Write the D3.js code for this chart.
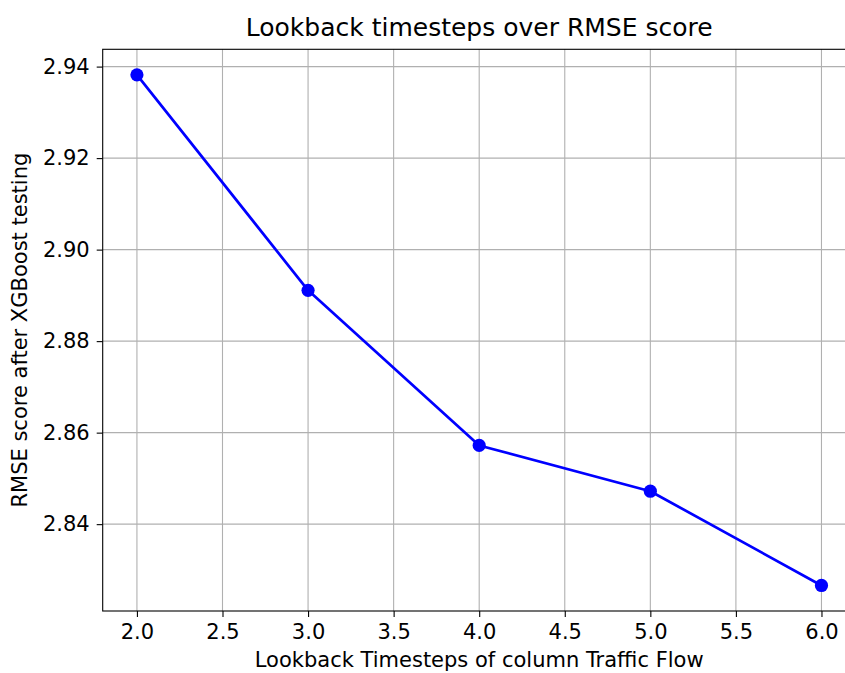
<!DOCTYPE html>
<html>
<head>
<meta charset="utf-8">
<script src="https://cdn.jsdelivr.net/npm/d3@7"></script>
<style>
  html, body { margin: 0; padding: 0; background: #fff; }
  svg { display: block; }
  text { font-family: "DejaVu Sans", sans-serif; fill: #000; }
</style>
</head>
<body>
<svg id="chart" width="845" height="673"></svg>
<script>
const lookback = [2, 3, 4, 5, 6];
const rmse = [2.9382, 2.8911, 2.8572, 2.8472, 2.8266];
const xTicks = [2.0, 2.5, 3.0, 3.5, 4.0, 4.5, 5.0, 5.5, 6.0];
const yTicks = [2.84, 2.86, 2.88, 2.90, 2.92, 2.94];
const titleText = "Lookback timesteps over RMSE score";
const xLabelText = "Lookback Timesteps of column Traffic Flow";
const yLabelText = "RMSE score after XGBoost testing";

const svg = d3.select("#chart");
const L = 102.7, R = 855.7, T = 49.3, B = 611;
const FS = 21;

const xr = d3.extent(lookback), xm = (xr[1] - xr[0]) * 0.05;
const yr = d3.extent(rmse), ym = (yr[1] - yr[0]) * 0.05;
const x = d3.scaleLinear().domain([xr[0] - xm, xr[1] + xm]).range([L, R]);
const y = d3.scaleLinear().domain([yr[0] - ym, yr[1] + ym]).range([B, T]);

// grid
const g = svg.append("g");
g.selectAll(".gx").data(xTicks).enter().append("line")
  .attr("x1", d => x(d)).attr("x2", d => x(d)).attr("y1", T).attr("y2", B)
  .attr("stroke", "#b0b0b0").attr("stroke-width", 1.1);
g.selectAll(".gy").data(yTicks).enter().append("line")
  .attr("x1", L).attr("x2", R).attr("y1", d => y(d)).attr("y2", d => y(d))
  .attr("stroke", "#b0b0b0").attr("stroke-width", 1.1);

// line
svg.append("path").datum(lookback.map((d, i) => [d, rmse[i]]))
  .attr("fill", "none").attr("stroke", "#0000ff").attr("stroke-width", 2.7)
  .attr("stroke-linejoin", "round")
  .attr("d", d3.line().x(d => x(d[0])).y(d => y(d[1])));
svg.selectAll(".pt").data(lookback).enter().append("circle")
  .attr("cx", d => x(d)).attr("cy", (d, i) => y(rmse[i])).attr("r", 6.6)
  .attr("fill", "#0000ff");

// axes
const xAxis = d3.axisBottom(x).tickValues(xTicks).tickFormat(d3.format(".1f")).tickSize(6).tickPadding(7);
const yAxis = d3.axisLeft(y).tickValues(yTicks).tickFormat(d3.format(".2f")).tickSize(6).tickPadding(7);
const gx = svg.append("g").attr("transform", `translate(0,${B})`).call(xAxis);
const gy = svg.append("g").attr("transform", `translate(${L},0)`).call(yAxis);
[gx, gy].forEach(a => {
  a.select(".domain").remove();
  a.selectAll(".tick line").attr("stroke", "#000").attr("stroke-width", 1.1);
  a.selectAll(".tick text").attr("font-size", FS).attr("font-family", "DejaVu Sans").attr("fill", "#000");
});

// spines
svg.append("rect").attr("x", L).attr("y", T).attr("width", R - L).attr("height", B - T)
  .attr("fill", "none").attr("stroke", "#000").attr("stroke-width", 1.1);

// labels
svg.append("text").attr("x", (L + R) / 2).attr("y", 36).attr("text-anchor", "middle")
  .attr("font-size", 25).text(titleText);
svg.append("text").attr("x", (L + R) / 2).attr("y", 667).attr("text-anchor", "middle")
  .attr("font-size", FS).text(xLabelText);
svg.append("text").attr("transform", `translate(26.5,${(T + B) / 2}) rotate(-90)`)
  .attr("text-anchor", "middle").attr("font-size", FS).text(yLabelText);
</script>
</body>
</html>
